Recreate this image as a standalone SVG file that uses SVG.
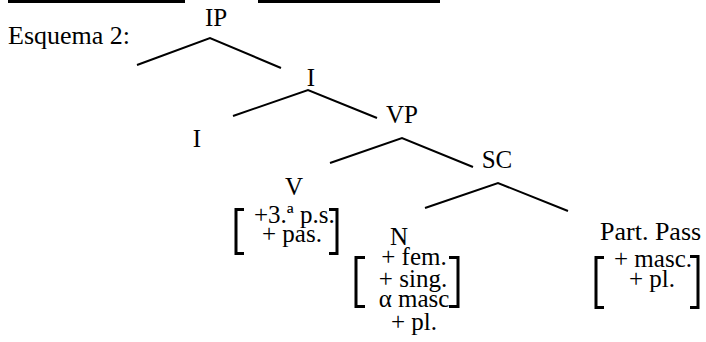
<svg xmlns="http://www.w3.org/2000/svg" width="706" height="342" viewBox="0 0 706 342">
<style>
text{font-family:"Liberation Serif","Times New Roman",serif;font-size:25px;fill:#000}
.m{text-anchor:middle}
.big{font-size:26px}
.e{stroke:#000;stroke-width:2;fill:none}
.b{stroke:#000;stroke-width:3;fill:none;stroke-linecap:butt}
.u{stroke:#000;stroke-width:3}
</style>
<rect width="706" height="342" fill="#fff"/>
<line class="u" x1="8" y1="1.5" x2="185" y2="1.5"/>
<line class="u" x1="258" y1="1.5" x2="440" y2="1.5"/>
<text class="big" x="8" y="44">Esquema 2:</text>
<g id="connectors">
<polyline class="e" points="137,65 210,38 281,68"/>
<polyline class="e" points="233,116 308,90 377,118"/>
<polyline class="e" points="330,163 402,138 473,167"/>
<polyline class="e" points="425,208 498,183 568,211"/>
</g>
<g id="IP"><text class="m" x="216" y="26">IP</text></g>
<g id="I1"><text class="m" x="311" y="86">I</text></g>
<g id="VP"><text class="m" x="402" y="123">VP</text></g>
<g id="I2"><text class="m" x="197" y="147">I</text></g>
<g id="SC"><text class="m" x="497" y="168">SC</text></g>
<g id="V">
<text class="m" x="294" y="195">V</text>
<path class="b" d="M244,209.5 H236 V253.5 H244"/>
<path class="b" d="M329,209.5 H337 V253.5 H329"/>
<text x="254" y="223">+3.ª p.s.</text>
<text x="262" y="242">+ pas.</text>
</g>
<g id="N">
<text class="m" x="399" y="245">N</text>
<path class="b" d="M365,257.5 H356 V306.5 H365"/>
<path class="b" d="M449,257.5 H458 V306.5 H449"/>
<text class="m" x="414" y="265">+ fem.</text>
<text class="m" x="413" y="287">+ sing.</text>
<text class="m" x="414" y="307">α masc</text>
<text class="m" x="414" y="330">+ pl.</text>
</g>
<g id="PartPass">
<text class="big" x="600" y="240">Part. Pass</text>
<path class="b" d="M604,257.5 H596 V307.5 H604"/>
<path class="b" d="M690,256.5 H698 V307.5 H690"/>
<text class="m" x="653" y="267">+ masc.</text>
<text class="m" x="652" y="287">+ pl.</text>
</g>
</svg>
